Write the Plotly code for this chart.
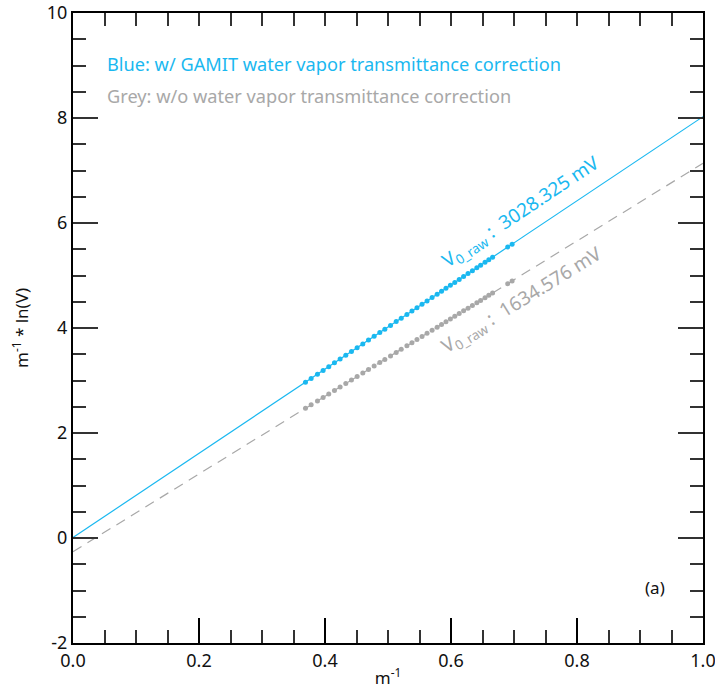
import plotly.graph_objects as go

# ---- data ----
inv_m = [0.369, 0.378, 0.388, 0.397, 0.406, 0.415, 0.424, 0.433, 0.442, 0.451,
         0.460, 0.469, 0.478, 0.487, 0.495, 0.504, 0.513, 0.521, 0.530, 0.538,
         0.546, 0.554, 0.562, 0.570, 0.578, 0.585, 0.592, 0.599, 0.606, 0.613,
         0.620, 0.627, 0.634, 0.641, 0.647, 0.654, 0.660, 0.666, 0.690, 0.697]
blue_y = [2.968, 3.040, 3.120, 3.192, 3.264, 3.337, 3.409, 3.481, 3.553, 3.625,
          3.697, 3.770, 3.842, 3.914, 3.978, 4.050, 4.122, 4.186, 4.258, 4.323,
          4.387, 4.451, 4.515, 4.579, 4.643, 4.699, 4.755, 4.812, 4.868, 4.924,
          4.980, 5.036, 5.092, 5.148, 5.196, 5.252, 5.300, 5.349, 5.541, 5.597]
grey_y = [2.470, 2.536, 2.610, 2.677, 2.744, 2.810, 2.877, 2.943, 3.010, 3.076,
          3.143, 3.210, 3.276, 3.343, 3.402, 3.469, 3.535, 3.594, 3.661, 3.720,
          3.779, 3.838, 3.898, 3.957, 4.016, 4.068, 4.120, 4.171, 4.223, 4.275,
          4.327, 4.378, 4.430, 4.482, 4.526, 4.578, 4.623, 4.667, 4.845, 4.896]
fit_x = [0.0, 1.0]
blue_fit_y = [0.01, 8.026]
grey_fit_y = [-0.26, 7.138]

x_ticks = [0.0, 0.2, 0.4, 0.6, 0.8, 1.0]
x_ticklabels = ["0.0", "0.2", "0.4", "0.6", "0.8", "1.0"]
y_ticks = [-2, 0, 2, 4, 6, 8, 10]
y_ticklabels = ["-2", "0", "2", "4", "6", "8", "10"]

BLUE = "#1AB8F0"
GREY = "#A8A8A8"
FONT = "Noto Sans"

fig = go.Figure()
fig.add_trace(go.Scatter(x=fit_x, y=grey_fit_y, mode="lines",
                         line=dict(color=GREY, width=1.2, dash="10px,7px"), showlegend=False))
fig.add_trace(go.Scatter(x=fit_x, y=blue_fit_y, mode="lines",
                         line=dict(color=BLUE, width=1.2), showlegend=False))
fig.add_trace(go.Scatter(x=inv_m, y=grey_y, mode="markers",
                         marker=dict(color=GREY, size=5), showlegend=False))
fig.add_trace(go.Scatter(x=inv_m, y=blue_y, mode="markers",
                         marker=dict(color=BLUE, size=5), showlegend=False))
# dummy trace to activate mirrored axes
fig.add_trace(go.Scatter(x=[None], y=[None], xaxis="x2", yaxis="y2", showlegend=False))

tick_col = "#333333"
fig.update_layout(
    width=715, height=692,
    margin=dict(l=73, r=12, t=13, b=49, autoexpand=False),
    plot_bgcolor="white", paper_bgcolor="white",
    font=dict(family=FONT, color="#111111"),
    xaxis=dict(range=[0, 1], tickmode="array", tickvals=x_ticks, ticktext=x_ticklabels,
               ticks="inside", ticklen=25, automargin=False, ticklabeloverflow="allow",
               tickwidth=1.5, tickcolor="black", showline=True, linecolor="black", linewidth=2,
               showgrid=False, zeroline=False, tickfont=dict(size=18),
               minor=dict(dtick=0.05, ticks="inside", ticklen=13, tickwidth=1.5, tickcolor=tick_col),
               title=dict(text="m<sup>-1</sup>", font=dict(size=17), standoff=2)),
    yaxis=dict(range=[-2, 10], tickmode="array", tickvals=y_ticks, ticktext=y_ticklabels,
               ticks="inside", ticklen=25, tickwidth=1.5, automargin=False, ticklabeloverflow="allow",
               tickcolor=tick_col, showline=True, linecolor="black", linewidth=2,
               showgrid=False, zeroline=False, tickfont=dict(size=18),
               minor=dict(dtick=0.5, ticks="inside", ticklen=13, tickwidth=1.5, tickcolor=tick_col),
               title=dict(text="m<sup>-1</sup> * ln(V)", font=dict(size=17), standoff=14)),
    xaxis2=dict(overlaying="x", side="top", range=[0, 1], dtick=0.05, ticks="inside",
                ticklen=13, tickwidth=1.5, tickcolor=tick_col, showticklabels=False, automargin=False,
                showline=True, linecolor="black", linewidth=2, showgrid=False, zeroline=False),
    yaxis2=dict(overlaying="y", side="right", range=[-2, 10], dtick=2, ticks="inside",
                ticklen=25, tickwidth=1.5, tickcolor=tick_col, showticklabels=False, automargin=False,
                showline=True, linecolor="black", linewidth=2, showgrid=False, zeroline=False,
                minor=dict(dtick=0.5, ticks="inside", ticklen=13, tickwidth=1.5, tickcolor=tick_col)),
)

fig.add_annotation(xref="paper", yref="paper", x=0.051, y=0.919, xanchor="left", yanchor="middle",
                   text="Blue: w/ GAMIT water vapor transmittance correction", showarrow=False,
                   font=dict(size=18.2, color=BLUE, family=FONT))
fig.add_annotation(xref="paper", yref="paper", x=0.051, y=0.868, xanchor="left", yanchor="middle",
                   text="Grey: w/o water vapor transmittance correction", showarrow=False,
                   font=dict(size=18.2, color=GREY, family=FONT))
fig.add_annotation(x=0.711, y=6.21, text="V<sub>0_raw</sub> :  3028.325 mV", showarrow=False,
                   textangle=-33.7, font=dict(size=19, color=BLUE, family=FONT))
fig.add_annotation(x=0.713, y=4.53, text="V<sub>0_raw</sub> :  1634.576 mV", showarrow=False,
                   textangle=-31.6, font=dict(size=19, color=GREY, family=FONT))
fig.add_annotation(x=0.924, y=-0.95, text="(a)", showarrow=False,
                   font=dict(size=17, color="#111111", family=FONT))

fig.write_html("out.html")
